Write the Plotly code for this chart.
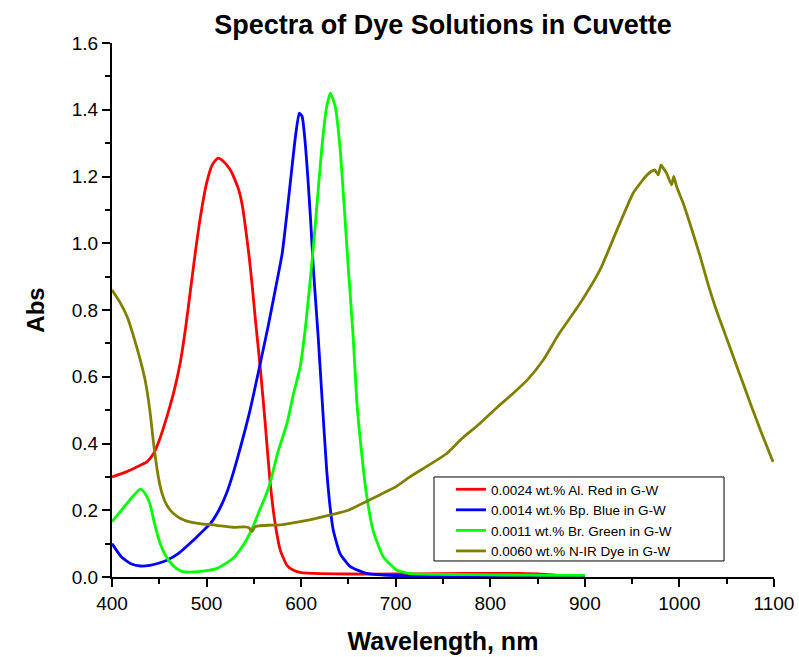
import plotly.graph_objects as go

# ---- data ----
wl_red = [400, 415, 430, 437, 444, 450, 458, 465, 472, 478, 483, 488, 493, 500, 506, 512, 518,
          525, 530, 534, 538, 541, 545, 548, 552, 557, 562, 567, 572, 578, 585, 592, 600, 620,
          650, 700, 750, 800, 830, 850, 873]
abs_red = [0.30, 0.315, 0.335, 0.345, 0.37, 0.41, 0.48, 0.55, 0.64, 0.75, 0.86, 0.97, 1.07, 1.18,
           1.235, 1.255, 1.245, 1.22, 1.19, 1.16, 1.11, 1.05, 0.96, 0.88, 0.76, 0.62, 0.46, 0.29,
           0.17, 0.08, 0.035, 0.02, 0.013, 0.01, 0.009, 0.009, 0.01, 0.011, 0.011, 0.009, 0.005]

wl_blue = [400, 410, 420, 430, 440, 450, 458, 470, 486, 495, 504, 513, 521, 528, 535, 546, 556,
           565, 574, 580, 585, 590, 594, 598, 601, 604, 607, 610, 613, 618, 622, 627, 631, 634,
           641, 652, 669, 687, 710, 750, 800, 900]
abs_blue = [0.10, 0.06, 0.04, 0.033, 0.035, 0.042, 0.05, 0.07, 0.11, 0.135, 0.16, 0.20, 0.25,
            0.31, 0.38, 0.50, 0.63, 0.75, 0.88, 0.97, 1.09, 1.22, 1.32, 1.39, 1.38, 1.31, 1.20,
            1.07, 0.92, 0.72, 0.54, 0.32, 0.20, 0.14, 0.071, 0.031, 0.011, 0.006, 0.003, 0.002,
            0.001, 0.0]

wl_green = [400, 410, 420, 430, 435, 440, 445, 451, 456, 461, 468, 475, 486, 498, 511, 520, 528,
            535, 542, 549, 556, 562, 567, 575, 585, 592, 599, 605, 611, 616, 622, 627, 631, 636,
            641, 646, 650, 655, 659, 664, 669, 676, 687, 701, 715, 740, 780, 820, 860, 900]
abs_green = [0.166, 0.20, 0.235, 0.263, 0.25, 0.22, 0.16, 0.10, 0.068, 0.046, 0.026, 0.016,
             0.015, 0.018, 0.026, 0.04, 0.056, 0.08, 0.11, 0.15, 0.20, 0.24, 0.28, 0.37, 0.46,
             0.55, 0.63, 0.76, 0.93, 1.09, 1.29, 1.41, 1.45, 1.41, 1.29, 1.09, 0.92, 0.72, 0.52,
             0.37, 0.25, 0.14, 0.06, 0.021, 0.01, 0.008, 0.007, 0.006, 0.005, 0.005]

wl_nir = [400, 408, 416, 426, 435, 440, 444, 449, 453, 458, 465, 472, 482, 493, 510, 528, 540,
          545, 548, 551, 555, 565, 578, 599, 615, 631, 650, 669, 683, 700, 715, 735, 754, 770,
          789, 806, 824, 839, 856, 873, 895, 916, 934, 951, 960, 966, 970, 974, 977.6, 980.5,
          983, 986.4, 991.7, 994, 997, 1004, 1011, 1022, 1030, 1039, 1048, 1057, 1066, 1075,
          1087, 1099]
abs_nir = [0.86, 0.825, 0.78, 0.69, 0.59, 0.50, 0.40, 0.30, 0.25, 0.215, 0.19, 0.176, 0.165,
           0.16, 0.155, 0.149, 0.15, 0.147, 0.136, 0.15, 0.153, 0.155, 0.156, 0.166, 0.175,
           0.186, 0.20, 0.226, 0.246, 0.27, 0.30, 0.335, 0.37, 0.415, 0.46, 0.505, 0.55, 0.59,
           0.65, 0.73, 0.82, 0.92, 1.04, 1.15, 1.185, 1.205, 1.215, 1.22, 1.205, 1.235, 1.225,
           1.21, 1.175, 1.20, 1.17, 1.12, 1.06, 0.96, 0.88, 0.80, 0.73, 0.66, 0.59, 0.52, 0.43,
           0.345]

series = [
    ("0.0024 wt.% Al. Red in G-W", wl_red, abs_red, "#FF0000"),
    ("0.0014 wt.% Bp. Blue in G-W", wl_blue, abs_blue, "#0000FF"),
    ("0.0011 wt.% Br. Green in G-W", wl_green, abs_green, "#00FF00"),
    ("0.0060 wt.% N-IR Dye in G-W", wl_nir, abs_nir, "#808000"),
]

FONT = "Liberation Sans, Arial, sans-serif"

fig = go.Figure()
for name, x, y, c in series:
    fig.add_trace(go.Scatter(x=x, y=y, mode="lines", name=name,
                             line=dict(color=c, width=2.8, shape="spline", smoothing=0.5)))

axis_common = dict(showline=True, linewidth=2, linecolor="black", showgrid=False,
                   zeroline=False, ticks="outside", ticklen=8, tickwidth=2, tickcolor="black",
                   tickfont=dict(family=FONT, size=19, color="black"), mirror=False,
                   automargin=False)

fig.update_xaxes(range=[400, 1100], dtick=100, tick0=400,
                 minor=dict(ticks="outside", ticklen=5, tickwidth=2, tickcolor="black", dtick=50),
                 title=dict(text="<b>Wavelength, nm</b>", standoff=20,
                            font=dict(family=FONT, size=25, color="black")),
                 **axis_common)
fig.update_yaxes(range=[0, 1.6], dtick=0.2, tick0=0, tickformat=".1f",
                 minor=dict(ticks="outside", ticklen=5, tickwidth=2, tickcolor="black", dtick=0.1),
                 title=dict(text="<b>Abs</b>", standoff=20,
                            font=dict(family=FONT, size=24, color="black")),
                 **axis_common)

# legend frame (wider than the entries, as in the reference)
fig.add_shape(type="rect", xref="paper", yref="paper",
              x0=0.4864, x1=0.9245, y0=0.030, y1=0.1873,
              line=dict(color="black", width=1), fillcolor="white", layer="below")

fig.update_layout(
    width=799, height=657,
    margin=dict(l=112, r=25, t=43, b=80),
    paper_bgcolor="white", plot_bgcolor="white",
    title=dict(text="<b>Spectra of Dye Solutions in Cuvette</b>", x=0.5, xref="paper",
               xanchor="center", y=0.962, yanchor="middle",
               font=dict(family=FONT, size=27, color="black")),
    legend=dict(x=0.512, y=0.1929, xanchor="left", yanchor="top",
                borderwidth=0, bgcolor="rgba(0,0,0,0)",
                font=dict(family=FONT, size=13.5, color="black"),
                itemwidth=30, tracegroupgap=0),
    showlegend=True,
)

fig.write_html("out.html")
